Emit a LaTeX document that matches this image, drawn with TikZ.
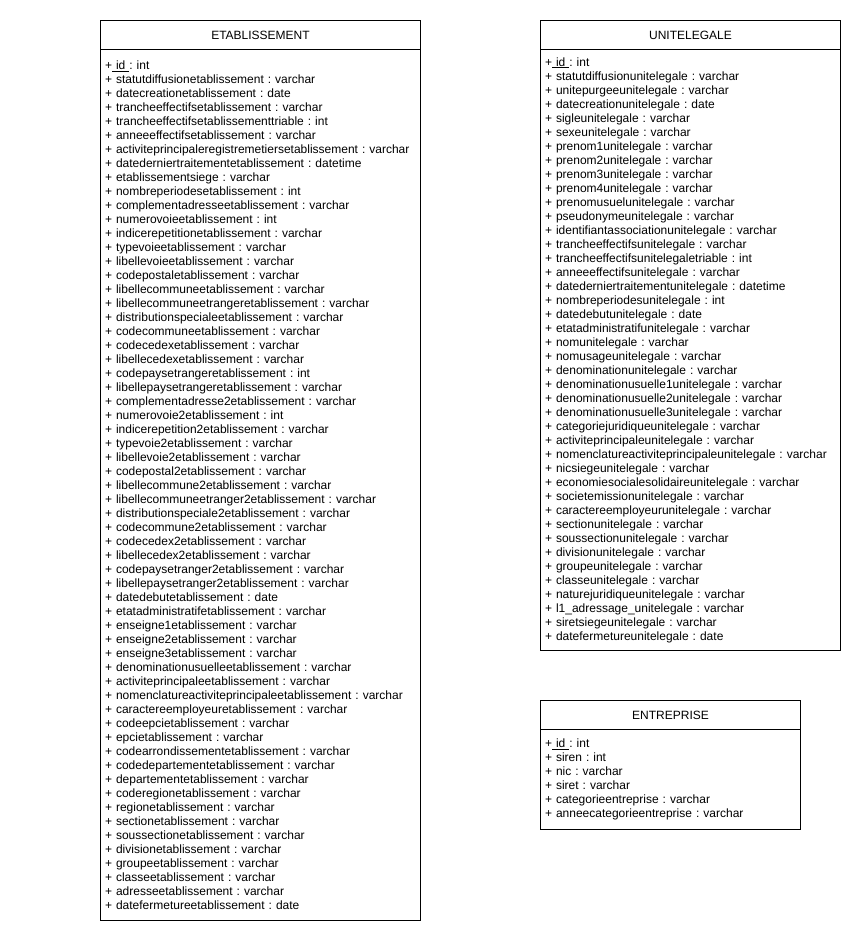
\documentclass[tikz,border=0pt]{standalone}
\usepackage{fontspec}
\setmainfont{Liberation Sans}
\usepackage{tikz}
\usetikzlibrary{positioning}

\begin{document}
\begin{tikzpicture}[
    x=1pt, y=-1pt,
    line width=0.8pt,
    classhead/.style={rectangle, draw, outer sep=0pt, inner sep=0pt, minimum height=29pt, font=\fontsize{12}{14}\selectfont},
    classbody/.style={rectangle, draw, outer sep=0pt, inner xsep=4.5pt, inner ysep=0pt, align=left, font=\fontsize{12}{14}\selectfont\frenchspacing}
]
    \useasboundingbox (0,0) rectangle (862,944);

    % ETABLISSEMENT
    \node[classhead, minimum width=320pt, anchor=north west] (etab) at (100.5,20.5) {ETABLISSEMENT};
    \node[classbody, text width=311pt, minimum height=871pt, below=0pt of etab] (etabattr) {%
        +\underline{ id\ }: int\\
        + statutdiffusionetablissement : varchar\\
        + datecreationetablissement : date\\
        + trancheeffectifsetablissement : varchar\\
        + trancheeffectifsetablissementtriable : int\\
        + anneeeffectifsetablissement : varchar\\
        + activiteprincipaleregistremetiersetablissement : varchar\\
        + datederniertraitementetablissement : datetime\\
        + etablissementsiege : varchar\\
        + nombreperiodesetablissement : int\\
        + complementadresseetablissement : varchar\\
        + numerovoieetablissement : int\\
        + indicerepetitionetablissement : varchar\\
        + typevoieetablissement : varchar\\
        + libellevoieetablissement : varchar\\
        + codepostaletablissement : varchar\\
        + libellecommuneetablissement : varchar\\
        + libellecommuneetrangeretablissement : varchar\\
        + distributionspecialeetablissement : varchar\\
        + codecommuneetablissement : varchar\\
        + codecedexetablissement : varchar\\
        + libellecedexetablissement : varchar\\
        + codepaysetrangeretablissement : int\\
        + libellepaysetrangeretablissement : varchar\\
        + complementadresse2etablissement : varchar\\
        + numerovoie2etablissement : int\\
        + indicerepetition2etablissement : varchar\\
        + typevoie2etablissement : varchar\\
        + libellevoie2etablissement : varchar\\
        + codepostal2etablissement : varchar\\
        + libellecommune2etablissement : varchar\\
        + libellecommuneetranger2etablissement : varchar\\
        + distributionspeciale2etablissement : varchar\\
        + codecommune2etablissement : varchar\\
        + codecedex2etablissement : varchar\\
        + libellecedex2etablissement : varchar\\
        + codepaysetranger2etablissement : varchar\\
        + libellepaysetranger2etablissement : varchar\\
        + datedebutetablissement : date\\
        + etatadministratifetablissement : varchar\\
        + enseigne1etablissement : varchar\\
        + enseigne2etablissement : varchar\\
        + enseigne3etablissement : varchar\\
        + denominationusuelleetablissement : varchar\\
        + activiteprincipaleetablissement : varchar\\
        + nomenclatureactiviteprincipaleetablissement : varchar\\
        + caractereemployeuretablissement : varchar\\
        + codeepcietablissement : varchar\\
        + epcietablissement : varchar\\
        + codearrondissementetablissement : varchar\\
        + codedepartementetablissement : varchar\\
        + departementetablissement : varchar\\
        + coderegionetablissement : varchar\\
        + regionetablissement : varchar\\
        + sectionetablissement : varchar\\
        + soussectionetablissement : varchar\\
        + divisionetablissement : varchar\\
        + groupeetablissement : varchar\\
        + classeetablissement : varchar\\
        + adresseetablissement : varchar\\
        + datefermetureetablissement : date};

    % UNITELEGALE
    \node[classhead, minimum width=300pt, right=120pt of etab] (unite) {UNITELEGALE};
    \node[classbody, text width=291pt, minimum height=601pt, below=0pt of unite] (uniteattr) {%
        +\underline{ id\ }: int\\
        + statutdiffusionunitelegale : varchar\\
        + unitepurgeeunitelegale : varchar\\
        + datecreationunitelegale : date\\
        + sigleunitelegale : varchar\\
        + sexeunitelegale : varchar\\
        + prenom1unitelegale : varchar\\
        + prenom2unitelegale : varchar\\
        + prenom3unitelegale : varchar\\
        + prenom4unitelegale : varchar\\
        + prenomusuelunitelegale : varchar\\
        + pseudonymeunitelegale : varchar\\
        + identifiantassociationunitelegale : varchar\\
        + trancheeffectifsunitelegale : varchar\\
        + trancheeffectifsunitelegaletriable : int\\
        + anneeeffectifsunitelegale : varchar\\
        + datederniertraitementunitelegale : datetime\\
        + nombreperiodesunitelegale : int\\
        + datedebutunitelegale : date\\
        + etatadministratifunitelegale : varchar\\
        + nomunitelegale : varchar\\
        + nomusageunitelegale : varchar\\
        + denominationunitelegale : varchar\\
        + denominationusuelle1unitelegale : varchar\\
        + denominationusuelle2unitelegale : varchar\\
        + denominationusuelle3unitelegale : varchar\\
        + categoriejuridiqueunitelegale : varchar\\
        + activiteprincipaleunitelegale : varchar\\
        + nomenclatureactiviteprincipaleunitelegale : varchar\\
        + nicsiegeunitelegale : varchar\\
        + economiesocialesolidaireunitelegale : varchar\\
        + societemissionunitelegale : varchar\\
        + caractereemployeurunitelegale : varchar\\
        + sectionunitelegale : varchar\\
        + soussectionunitelegale : varchar\\
        + divisionunitelegale : varchar\\
        + groupeunitelegale : varchar\\
        + classeunitelegale : varchar\\
        + naturejuridiqueunitelegale : varchar\\
        + l1\_adressage\_unitelegale : varchar\\
        + siretsiegeunitelegale : varchar\\
        + datefermetureunitelegale : date};

    % ENTREPRISE
    \node[classhead, minimum width=260pt, below=50pt of uniteattr.south west, anchor=north west] (entr) {ENTREPRISE};
    \node[classbody, text width=251pt, minimum height=100pt, below=0pt of entr] (entrattr) {%
        +\underline{ id\ }: int\\
        + siren : int\\
        + nic : varchar\\
        + siret : varchar\\
        + categorieentreprise : varchar\\
        + anneecategorieentreprise : varchar};
\end{tikzpicture}
\end{document}
